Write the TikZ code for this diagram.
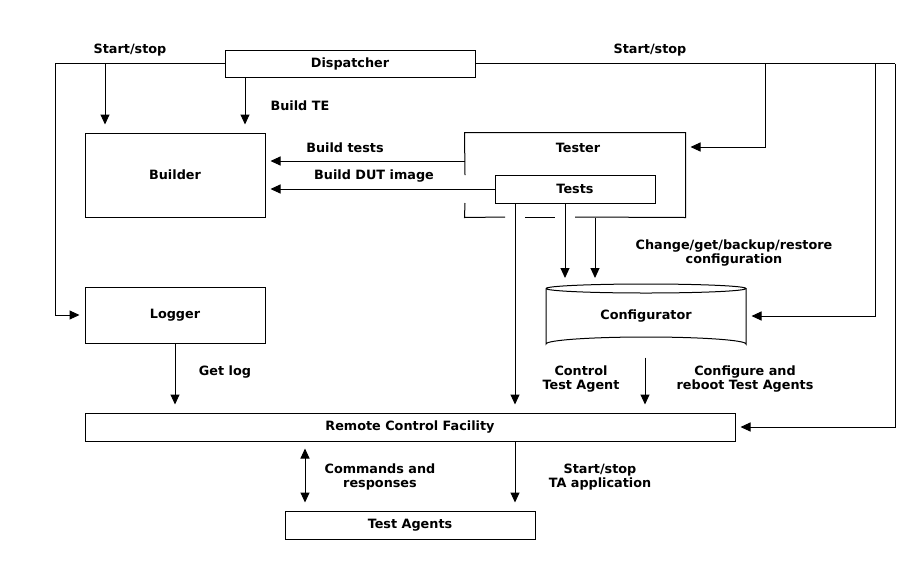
\documentclass[tikz,border=0pt]{standalone}
\usepackage{fontspec}
\setmainfont{DejaVu Sans}
\usetikzlibrary{arrows.meta}
\begin{document}
\begin{tikzpicture}[x=1pt,y=-1pt,line width=1pt,
  every node/.style={font=\fontsize{12.8}{14}\selectfont\bfseries},
  box/.style={draw,inner sep=0pt,anchor=center},
  lbl/.style={align=center,inner sep=0pt},
  arr/.style={-{Triangle[length=10pt,width=9pt]}},
  arrH/.style={arr,shorten >=5pt},
  arrV/.style={arr,shorten >=8pt}]
\useasboundingbox (0,0) rectangle (920,574);
% boxes
\node[box,minimum width=250pt,minimum height=27pt] (disp) at (350,63.5) {Dispatcher};
\node[box,minimum width=180pt,minimum height=84pt] (builder) at (175,175) {Builder};
\node[inner sep=0pt,minimum width=220pt,minimum height=84pt] (tester) at (575,175) {};
\node[lbl] (testerlbl) at (578,147.5) {Tester};
\node[box,minimum width=160pt,minimum height=28pt] (tests) at (575,189) {Tests};
\node[box,minimum width=180pt,minimum height=56pt] (logger) at (175,315) {Logger};
\node[inner sep=0pt,minimum width=200pt,minimum height=63pt] (conf) at (646,316) {Configurator};
\node[box,minimum width=650pt,minimum height=28pt] (rcf) at (410,427) {Remote Control Facility};
\node[box,minimum width=250pt,minimum height=28pt] (ta) at (410,525) {Test Agents};
% tester outline with gaps
\draw (465,175) -- (tester.north west) -- (tester.north east) -- (tester.south east) -- (575,217);
\draw (525,217) -- (555,217);
\draw (465,203) -- (tester.south west) -- (505,217);
% configurator cylinder
\draw (546,288.5) arc[start angle=180,end angle=540,x radius=100pt,y radius=4.5pt];
\draw (546,288.5) -- (546,344) arc[start angle=180,end angle=360,x radius=100pt,y radius=-7pt] -- (746,288.5);
% coordinates
\coordinate (L) at (55,63.5);
\coordinate (R1) at (765,63.5);
\coordinate (R2) at (875,63.5);
\coordinate (R3) at (895,63.5);
% connectors
\draw (disp.west) -- (L);
\draw[arrH] (L) |- (logger.west);
\draw[arrV] (disp.west -| 105,0) -- (builder.north -| 105,0);
\draw[arrV] (disp.south -| 245,0) -- (builder.north -| 245,0);
\draw (disp.east) -- (R3);
\draw[arrH] (R1) |- (tester.east |- 0,147);
\draw[arrH] (R2) |- (conf.east);
\draw[arrH] (R3) |- (rcf.east);
\draw[arrH] (tester.west |- 0,161) -- (builder.east |- 0,161);
\draw[arrH] (tests.west) -- (tests.west -| builder.east);
\draw[arrV] (tests.south -| 515,0) -- (rcf.north -| 515,0);
\draw[arr,shorten >=6pt] (tests.south -| 565,0) -- (conf.north -| 565,0);
\draw[arr,shorten >=6pt] (tester.south -| 595,0) -- (conf.north -| 595,0);
\draw[arrV,shorten <=9.5pt] (conf.south -| 645,0) -- (rcf.north -| 645,0);
\draw[arrV] (logger.south) -- (rcf.north -| logger.south);
\draw[{Triangle[length=10pt,width=9pt]}-{Triangle[length=10pt,width=9pt]},shorten <=7pt,shorten >=8pt] (rcf.south -| 305,0) -- (ta.north -| 305,0);
\draw[arrV] (rcf.south -| 515,0) -- (ta.north -| 515,0);
% labels
\node[lbl] (l1) at (130,50) {Start/stop};
\node[lbl] (l2) at (650,50) {Start/stop};
\node[lbl,anchor=west] (l3) at (270,106) {Build TE};
\node[lbl] (l4) at (345,148) {Build tests};
\node[lbl] (l5) at (374,176) {Build DUT image};
\node[lbl] (l6) at (734,253) {Change/get/backup/restore\\configuration};
\node[lbl] (l7) at (581,379) {Control\\Test Agent};
\node[lbl] (l8) at (745,379) {Configure and\\reboot Test Agents};
\node[lbl] (l9) at (225,372) {Get log};
\node[lbl] (l10) at (380,477) {Commands and\\responses};
\node[lbl] (l11) at (600,477) {Start/stop\\TA application};
\end{tikzpicture}
\end{document}
